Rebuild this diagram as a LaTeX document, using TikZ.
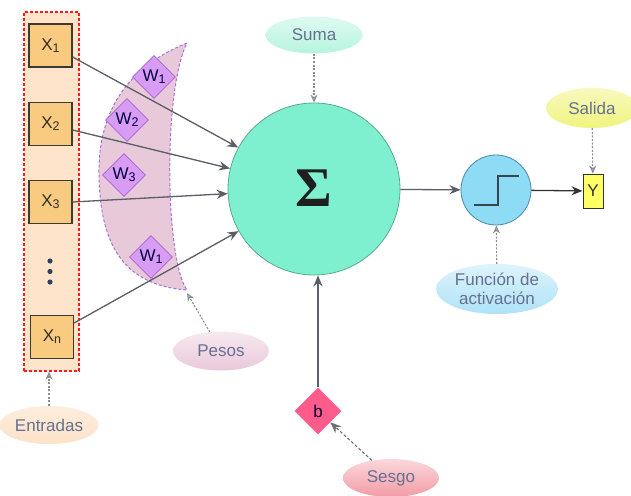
\documentclass[tikz,border=0pt]{standalone}
\usepackage{fontspec}
\setmainfont{Liberation Sans}
\newfontfamily\sigfont{Liberation Serif}
\usetikzlibrary{arrows.meta,shapes.geometric,calc}
\definecolor{peach}{HTML}{FDE4CA}
\definecolor{xfill}{HTML}{F9CB80}
\definecolor{xborder}{HTML}{3E3A30}
\definecolor{pfill}{HTML}{E8C9DA}
\definecolor{pborder}{HTML}{A772D2}
\definecolor{wfill}{HTML}{D99CF4}
\definecolor{wborder}{HTML}{A564D0}
\definecolor{sumfill}{HTML}{7EF0D0}
\definecolor{sumborder}{HTML}{5BA890}
\definecolor{actfill}{HTML}{8EDBF6}
\definecolor{actborder}{HTML}{4A8CA8}
\definecolor{bfill}{HTML}{FF5C8C}
\definecolor{yfill}{HTML}{FFFF66}
\definecolor{linec}{HTML}{595E68}
\definecolor{dotc}{HTML}{8A8C90}
\definecolor{labc}{HTML}{667090}
\definecolor{sumac}{HTML}{B6F4DF}
\definecolor{entc}{HTML}{FCE2C8}
\definecolor{pesc}{HTML}{EAC8DA}
\definecolor{sesc}{HTML}{F29CA6}
\definecolor{salc}{HTML}{F0F47E}
\definecolor{func}{HTML}{AEE2F7}
\definecolor{slate}{HTML}{37474F}
\newcommand{\lowsub}[1]{\raisebox{-2pt}{\fontsize{12.5}{13}\selectfont #1}}
\begin{document}
\begin{tikzpicture}[x=1pt,y=-1pt,
  every node/.style={font=\fontsize{17}{19}\selectfont},
  xbox/.style={draw=xborder,line width=1.3pt,fill=xfill,minimum width=43pt,minimum height=43pt,inner sep=0pt,text=xborder!80!black},
  wdia/.style={diamond,draw=wborder,line width=0.6pt,fill=wfill,minimum size=43pt,inner sep=0pt,text=black!75!blue},
  lab/.style={ellipse,inner sep=1pt,text=labc},
  inarrow/.style={draw=linec,line width=1.3pt,-{Stealth[length=11pt,width=9pt]},fill=linec},
  dotarrow/.style={draw=dotc,line width=1.1pt,dash pattern=on 2pt off 1.6pt,-{Stealth[open,length=8pt,width=7pt]}},
]
\clip (0,0) rectangle (631,495);
% input box
\node[draw=red!90!white,line width=1.3pt,dash pattern=on 3pt off 2pt,fill=peach,minimum width=55pt,minimum height=359pt,inner sep=0pt] (inp) at (51.5,191.5) {};
\node[xbox] (x1) at (50.5,45.5) {X\lowsub{1}};
\node[xbox] (x2) at (50.5,124) {X\lowsub{2}};
\node[xbox] (x3) at (50.5,202) {X\lowsub{3}};
\node[xbox] (xn) at (52,337) {X\lowsub{n}};
\fill[slate!90!blue] (50,261) circle (2.6pt) (50,271.5) circle (2.6pt) (50,282) circle (2.6pt);
% weights crescent
\path[draw=pborder,line width=1pt,dash pattern=on 3pt off 2pt,fill=pfill]
  (187,43) .. controls (120,70) and (98,120) .. (99,175)
  .. controls (100,240) and (120,285) .. (187,290)
  .. controls (165,260) and (163,90) .. (187,43) -- cycle;
\coordinate (ptip) at (187,293);
\node[wdia] (w1) at (154,77) {W\lowsub{1}};
\node[wdia] (w2) at (127,120) {W\lowsub{2}};
\node[wdia] (w3) at (124,175) {W\lowsub{3}};
\node[wdia] (w4) at (151,257) {W\lowsub{1}};
% sum
\node[circle,draw=sumborder,line width=0.8pt,fill=sumfill,minimum size=172pt,inner sep=0pt] (sum) at (314,189) {};
\node[text=black!88,inner sep=0pt] (sig) at (314,188) {\fontsize{56}{56}\selectfont\sigfont\bfseries Σ};
% input arrows
\draw[inarrow] ([yshift=-11.5pt]x1.east) -- (sum);
\draw[inarrow] ([yshift=-6pt]x2.east) -- (sum);
\draw[inarrow] (x3.east) -- (sum);
\draw[inarrow] ([yshift=14pt]xn.east) -- (sum);
% activation
\node[circle,draw=actborder,line width=0.8pt,fill=actfill,minimum size=70pt,inner sep=0pt] (act) at (496,190) {};
\draw[line width=2pt,color=slate] ($(act)+(-22,15)$) -- ++(24,0) -- ++(0,-29) -- ++(21,0);
\draw[inarrow] (sum) -- (act);
\node[draw=black!80,line width=1pt,fill=yfill,minimum width=20pt,minimum height=34pt,inner sep=0pt,text=black!80] (y) at (593,191) {Y};
\draw[draw=black!80,line width=1.3pt,-{Stealth[length=11pt,width=9pt]}] (act) -- (y);
% bias
\node[diamond,fill=bfill,minimum size=47pt,inner sep=0pt,text=black!80!blue] (b) at (318,411) {b};
\draw[inarrow] (b.north) -- (b.north |- sum.south);
% labels
\node[lab,top color=sumac!45!white,bottom color=sumac,minimum width=97pt,minimum height=37pt] (suma) at (314,35) {Suma};
\node[lab,top color=entc!60!white,bottom color=entc,minimum width=96pt,minimum height=38pt] (entr) at (49,425) {Entradas};
\node[lab,top color=pesc!40!white,bottom color=pesc,minimum width=96pt,minimum height=39pt] (pesos) at (221,351) {Pesos};
\node[lab,top color=sesc!40!white,bottom color=sesc,minimum width=96pt,minimum height=38pt] (sesgo) at (391,478) {Sesgo};
\node[lab,top color=salc!50!white,bottom color=salc,minimum width=92pt,minimum height=40pt] (salida) at (592,108) {Salida};
\node[lab,top color=func!40!white,bottom color=func,minimum width=120pt,minimum height=50pt,align=center] (fun) at (497,289) {Función de\\activación};
% label arrows
\draw[dotarrow] (suma) -- (sum);
\draw[dotarrow] (entr.north) -- (entr.north |- inp.south);
\draw[dotarrow] (pesos) -- (ptip);
\draw[dotarrow] (salida) -- (y);
\draw[dotarrow] (fun) -- (act);
\draw[draw=dotc!80!black,line width=1.1pt,dash pattern=on 3pt off 2pt,-{Stealth[length=11pt,width=9pt]}] (sesgo) -- (b);
\end{tikzpicture}
\end{document}
